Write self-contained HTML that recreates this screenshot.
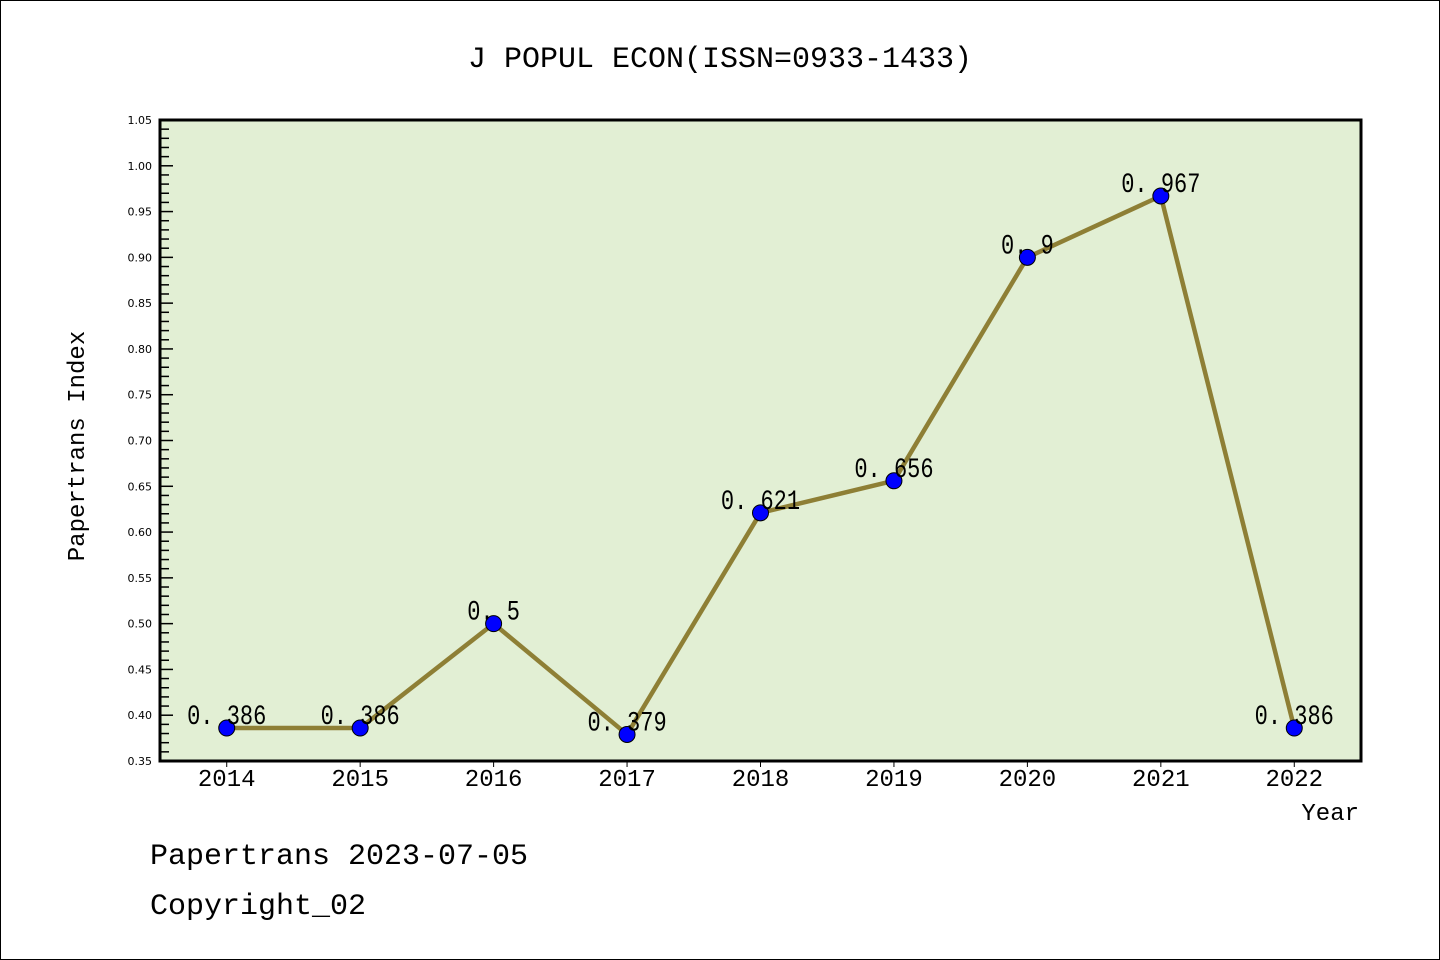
<!DOCTYPE html>
<html><head><meta charset="utf-8"><style>
html,body{margin:0;padding:0;background:#fff;}
svg{display:block;font-family:"Liberation Mono","WenQuanYi Zen Hei",monospace;}
</style></head><body>
<svg id="chart" width="1440" height="960" xmlns="http://www.w3.org/2000/svg">
<rect x="0.5" y="0.5" width="1439" height="959" fill="#fff" stroke="#000"/>
<text x="720" y="67" font-size="30" text-anchor="middle">J POPUL ECON(ISSN=0933-1433)</text>
<rect x="160" y="120" width="1201" height="641" fill="#e2efd4"/>
<g id="axes"></g>
<g id="series"></g>
<rect x="160" y="120" width="1201" height="641" fill="none" stroke="#000" stroke-width="3"/>
<text transform="translate(84,446) rotate(-90)" font-size="24" text-anchor="middle">Papertrans Index</text>
<text x="1359" y="820" font-size="24" text-anchor="end">Year</text>
<text x="150" y="864" font-size="30">Papertrans 2023-07-05</text>
<text x="150" y="914" font-size="30">Copyright_02</text>
</svg>
<script>
var categories = ["2014","2015","2016","2017","2018","2019","2020","2021","2022"];
var values = [0.386,0.386,0.5,0.379,0.621,0.656,0.9,0.967,0.386];
var valueLabels = ["0.386","0.386","0.5","0.379","0.621","0.656","0.9","0.967","0.386"];
var yTicks = ["0.35","0.40","0.45","0.50","0.55","0.60","0.65","0.70","0.75","0.80","0.85","0.90","0.95","1.00","1.05"];
var yMin = 0.35, yMax = 1.05;
(function(){
var L=160,R=1361,T=120,B=761;
var NS="http://www.w3.org/2000/svg";
function xs(i){return L+(R-L)/categories.length*(i+0.5);}
function ys(v){return B-(v-yMin)/(yMax-yMin)*(B-T);}
function mk(tag,attrs,parent){var e=document.createElementNS(NS,tag);for(var k in attrs){e.setAttribute(k,attrs[k]);}parent.appendChild(e);return e;}
var axes=document.getElementById('axes'), series=document.getElementById('series');
for(var k=0;k<=70;k++){
  var y=ys(yMin+k*0.01); var major=(k%5===0);
  var t=mk('line',{x1:L,x2:L+(major?13:9),y1:y,y2:y,stroke:'#000','stroke-width':1.5},axes);
  
  
}
yTicks.forEach(function(s){
  var t=mk('text',{x:L-8,y:ys(parseFloat(s))+4,'font-size':11,'text-anchor':'end','font-family':'DejaVu Sans, sans-serif'},axes);
  t.textContent=s;
  
  
});
categories.forEach(function(c,i){
  var tk=mk('line',{x1:xs(i),x2:xs(i),y1:B,y2:B+6,stroke:'#000','stroke-width':1},axes);
  
  
  var t=mk('text',{x:xs(i),y:B+25,'font-size':24,'text-anchor':'middle'},axes);
  t.textContent=c;
  
  
});
var pts=values.map(function(v,i){return xs(i)+','+ys(v);}).join(' ');
var ln=mk('polyline',{points:pts,fill:'none',stroke:'#8e7f35','stroke-width':4.5,'stroke-linejoin':'round'},series);


values.forEach(function(v,i){
  var c=mk('circle',{cx:xs(i),cy:ys(v),r:8,fill:'#0000ff',stroke:'#000','stroke-width':1},series);
  
  
  var s=valueLabels[i].replace('.','. ');
  var t=mk('text',{x:xs(i),y:ys(v)-4,'font-size':28,'text-anchor':'middle',textLength:13.2*s.length,lengthAdjust:'spacingAndGlyphs'},series);
  t.textContent=s;
  
  
});
})();
</script>
</body></html>
